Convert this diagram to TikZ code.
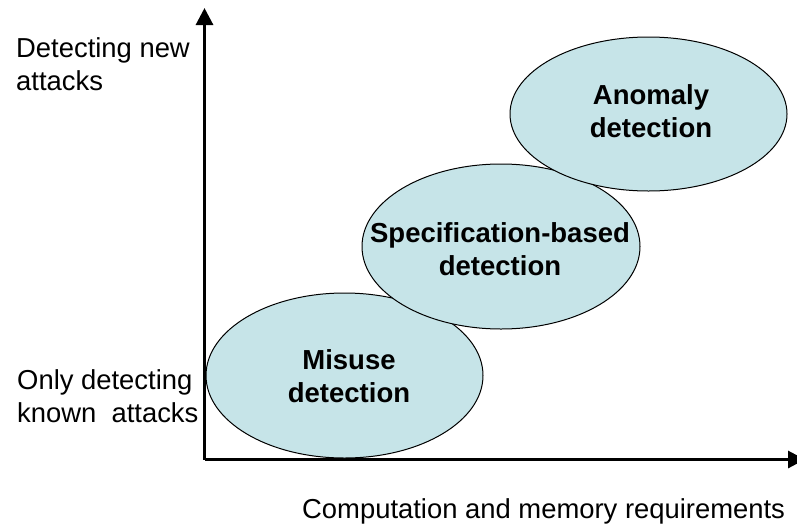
\documentclass[tikz,border=0pt]{standalone}
\usepackage{fontspec}
\setmainfont{Liberation Sans}
\usetikzlibrary{arrows.meta,shapes.geometric}
\definecolor{ellfill}{RGB}{198,228,232}
\begin{document}
\begin{tikzpicture}[x=1pt,y=-1pt,
  axis/.style={line width=3pt,-{Triangle[width=17pt,length=17pt]}},
  region/.style={ellipse,draw=black,line width=1pt,fill=ellfill,inner sep=0pt},
  rtext/.style={anchor=base,inner sep=0pt,align=center,font=\fontsize{27.5}{33}\selectfont\bfseries},
  lbl/.style={anchor=base west,inner sep=0pt,font=\fontsize{27.4}{33}\selectfont}]
\useasboundingbox (0,0) rectangle (797,525);
\coordinate (o) at (204.5,459.5);
\coordinate (ytip) at (204.5,8);
\coordinate (xtip) at (805,459.5);
\draw[axis] (o) -- (ytip);
\draw[axis] (o) -- (xtip);
\node[region,minimum width=277pt,minimum height=165pt] (mis) at (344.5,375.5) {};
\node[region,minimum width=278pt,minimum height=165pt] (spec) at (501,246.5) {};
\node[region,minimum width=277pt,minimum height=154pt] (anom) at (648.5,114) {};
\node[rtext] (mist) at (349,402) {Misuse\\detection};
\node[rtext] (spect) at (500,275) {Specification-based\\detection};
\node[rtext] (anomt) at (651,137) {Anomaly\\detection};
\node[lbl] (dn) at (16,57) {Detecting new};
\node[lbl] (da) at (16,90) {attacks};
\node[lbl] (od) at (17,389) {Only detecting};
\node[lbl] (ka) at (17,422) {known\ \ attacks};
\node[lbl] (cm) at (302,518) {Computation and memory requirements};
\end{tikzpicture}
\end{document}
